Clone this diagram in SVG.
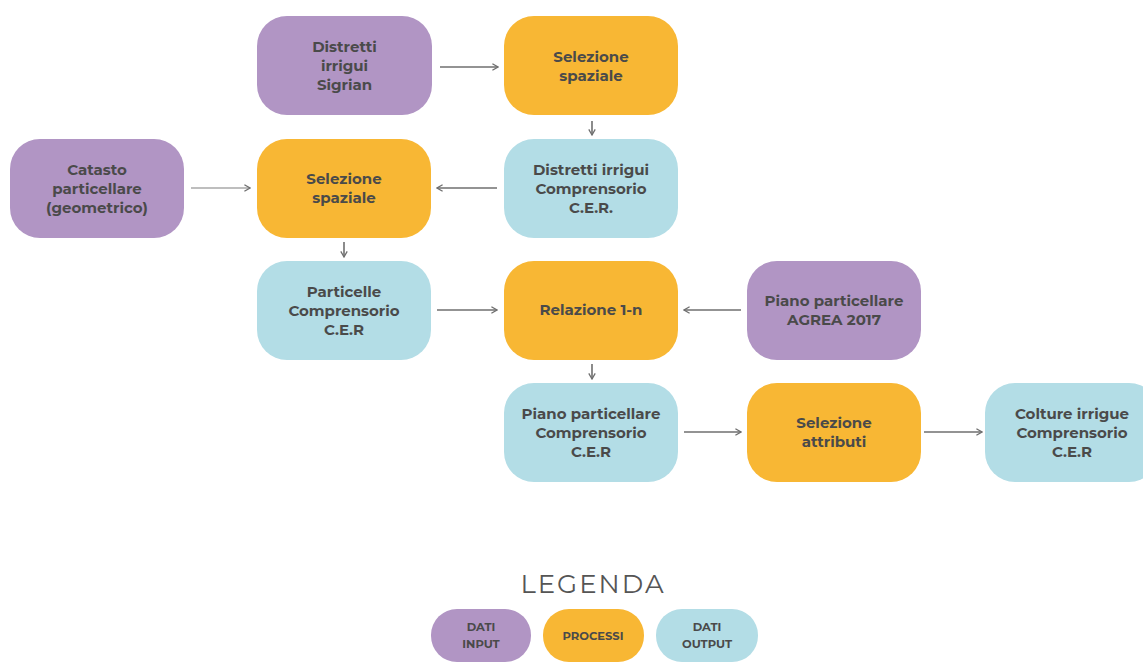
<svg xmlns="http://www.w3.org/2000/svg" width="1143" height="662" viewBox="0 0 1143 662">
<defs>
<style>
.in{fill:#b195c4}
.pr{fill:#f8b734}
.out{fill:#b3dde6}
text{font-family:"Montserrat","Lato","Liberation Sans",sans-serif;font-weight:bold;font-size:15px;fill:#4a4a4a;text-anchor:middle}
.lg{font-size:11.5px}
.conn line{stroke:#6f6f6f;stroke-width:1.6;fill:none}
</style>
<marker id="ah" viewBox="0 0 10 10" refX="9" refY="5" markerWidth="8" markerHeight="8" orient="auto" markerUnits="userSpaceOnUse">
<path d="M2,1 L9,5 L2,9" fill="none" stroke="#6f6f6f" stroke-width="1.6"/>
</marker>
</defs>
<rect width="1143" height="662" fill="#ffffff"/>

<g id="n-sigrian"><rect class="in" x="257" y="16" width="175" height="99" rx="30"/>
<text x="344.5" y="52">Distretti</text><text x="344.5" y="71">irrigui</text><text x="344.5" y="90">Sigrian</text></g>

<g id="n-sel1"><rect class="pr" x="504" y="16" width="174" height="99" rx="30"/>
<text x="591" y="62">Selezione</text><text x="591" y="81">spaziale</text></g>

<g id="n-catasto"><rect class="in" x="10" y="139" width="174" height="99" rx="30"/>
<text x="97" y="175">Catasto</text><text x="97" y="194">particellare</text><text x="97" y="213">(geometrico)</text></g>

<g id="n-sel2"><rect class="pr" x="257" y="139" width="174" height="99" rx="30"/>
<text x="344" y="184">Selezione</text><text x="344" y="203">spaziale</text></g>

<g id="n-distcer"><rect class="out" x="504" y="139" width="174" height="99" rx="30"/>
<text x="591" y="175">Distretti irrigui</text><text x="591" y="194">Comprensorio</text><text x="591" y="213">C.E.R.</text></g>

<g id="n-particelle"><rect class="out" x="257" y="261" width="174" height="99" rx="30"/>
<text x="344" y="297">Particelle</text><text x="344" y="316">Comprensorio</text><text x="344" y="335">C.E.R</text></g>

<g id="n-relazione"><rect class="pr" x="504" y="261" width="174" height="99" rx="30"/>
<text x="591" y="315">Relazione 1-n</text></g>

<g id="n-agrea"><rect class="in" x="747" y="261" width="174" height="99" rx="30"/>
<text x="834" y="306">Piano particellare</text><text x="834" y="325">AGREA 2017</text></g>

<g id="n-pianocer"><rect class="out" x="504" y="383" width="174" height="99" rx="30"/>
<text x="591" y="419">Piano particellare</text><text x="591" y="438">Comprensorio</text><text x="591" y="457">C.E.R</text></g>

<g id="n-selattr"><rect class="pr" x="747" y="383" width="174" height="99" rx="30"/>
<text x="834" y="428">Selezione</text><text x="834" y="447">attributi</text></g>

<g id="n-colture"><rect class="out" x="985" y="383" width="174" height="99" rx="30"/>
<text x="1072" y="419">Colture irrigue</text><text x="1072" y="438">Comprensorio</text><text x="1072" y="457">C.E.R</text></g>

<g id="connectors" class="conn">
<line x1="440" y1="67" x2="498" y2="67" marker-end="url(#ah)"/>
<line x1="592" y1="121" x2="592" y2="135" marker-end="url(#ah)"/>
<line x1="497" y1="188" x2="437" y2="188" marker-end="url(#ah)"/>
<line x1="191" y1="188" x2="250" y2="188" marker-end="url(#ah)" style="stroke:#a8a8a8"/>
<line x1="344" y1="242" x2="344" y2="257" marker-end="url(#ah)"/>
<line x1="437" y1="310" x2="497" y2="310" marker-end="url(#ah)"/>
<line x1="741" y1="310" x2="684" y2="310" marker-end="url(#ah)"/>
<line x1="592" y1="364" x2="592" y2="379" marker-end="url(#ah)"/>
<line x1="684" y1="432" x2="741" y2="432" marker-end="url(#ah)"/>
<line x1="924" y1="432" x2="982" y2="432" marker-end="url(#ah)"/>
</g>

<g id="legend">
<text x="593" y="593" style="font-weight:normal;font-size:26px;letter-spacing:2px;fill:#555">LEGENDA</text>
<g id="lg-input"><rect class="in" x="431" y="609" width="100" height="53" rx="26"/>
<text class="lg" x="481" y="631">DATI</text><text class="lg" x="481" y="648">INPUT</text></g>
<g id="lg-proc"><rect class="pr" x="543" y="609" width="101" height="53" rx="26"/>
<text class="lg" x="593" y="640">PROCESSI</text></g>
<g id="lg-output"><rect class="out" x="656" y="609" width="102" height="53" rx="26"/>
<text class="lg" x="707" y="631">DATI</text><text class="lg" x="707" y="648">OUTPUT</text></g>
</g>
</svg>
